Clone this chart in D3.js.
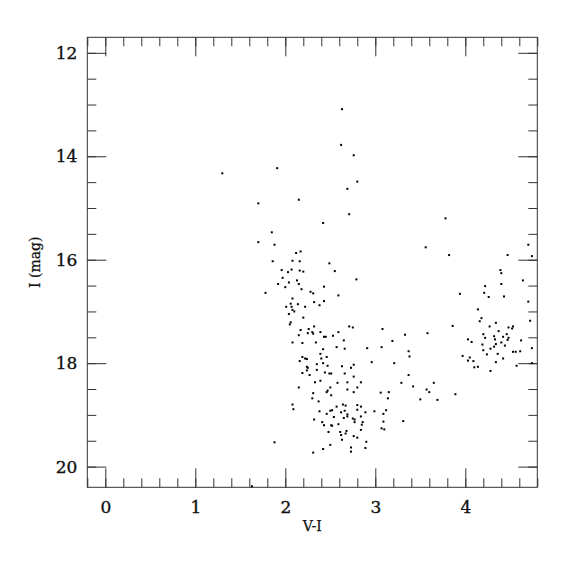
<!DOCTYPE html>
<html>
<head>
<meta charset="utf-8">
<script src="https://cdn.jsdelivr.net/npm/d3@7.9.0/dist/d3.min.js"></script>
<style>
  body { margin: 0; background: #fff; }
  svg { display: block; }
  .tick text { font-family: "DejaVu Serif", serif; font-size: 17px; fill: #111; stroke: #111; stroke-width: 0.35px; }
  .axis-title { font-family: "DejaVu Serif", serif; font-size: 14px; fill: #111; stroke: #111; stroke-width: 0.25px; }
</style>
</head>
<body>
<svg id="cmd" width="575" height="575"></svg>
<script>
// [V-I, I] pairs
const brightStars = [
  [2.63, 13.09], [2.62, 13.78], [1.91, 14.23], [1.30, 14.33], [2.69, 14.63], [2.15, 14.84],
  [1.70, 14.91], [2.71, 15.12], [2.42, 15.29], [1.85, 15.47], [1.70, 15.66], [1.88, 15.71],
  [2.76, 13.98], [2.80, 14.49], [3.78, 15.20], [3.56, 15.76], [4.70, 15.71], [3.82, 15.91],
  [1.63, 20.38]
];

const upperBranch = [
  [2.17, 15.84], [2.12, 15.87], [1.86, 16.03], [2.08, 16.02], [2.16, 16.03], [2.49, 16.07],
  [1.96, 16.20], [2.07, 16.19], [2.03, 16.24], [2.16, 16.21], [2.20, 16.23], [2.55, 16.22],
  [2.79, 16.38], [1.97, 16.35], [2.13, 16.40], [2.04, 16.44], [2.15, 16.47], [1.92, 16.47],
  [2.00, 16.53], [2.43, 16.52], [2.18, 16.57], [1.78, 16.64], [2.28, 16.62], [2.31, 16.65],
  [2.59, 16.69], [2.08, 16.75], [2.43, 16.80], [2.32, 16.82], [2.06, 16.85], [2.14, 16.86],
  [2.38, 16.88], [2.01, 16.91], [2.07, 16.91], [2.22, 16.91], [2.08, 16.97], [2.10, 17.00],
  [2.04, 17.05], [2.20, 17.12], [2.06, 17.21], [2.05, 17.25], [2.32, 17.29], [2.71, 17.29],
  [2.75, 17.31], [2.17, 17.36], [2.26, 17.34], [2.30, 17.40], [2.31, 17.43], [2.39, 17.40],
  [2.15, 17.46], [2.25, 17.42], [2.59, 17.40], [2.43, 17.49], [2.45, 17.49], [2.53, 17.47],
  [2.65, 17.56], [2.08, 17.60], [2.19, 17.61], [2.34, 17.60], [2.42, 17.73], [2.57, 17.69],
  [2.66, 17.72]
];

const lowerBranch = [
  [2.39, 17.82], [2.19, 17.88], [2.22, 17.91], [2.24, 17.92], [2.40, 17.91], [2.46, 17.88],
  [2.16, 17.96], [2.35, 18.02], [2.42, 18.00], [2.47, 18.05], [2.63, 18.06], [2.76, 18.03],
  [2.73, 18.09], [2.24, 18.07], [2.25, 18.09], [2.35, 18.13], [2.24, 18.14], [2.19, 18.19],
  [2.27, 18.23], [2.44, 18.18], [2.49, 18.20], [2.51, 18.20], [2.66, 18.20], [2.76, 18.26],
  [2.39, 18.34], [2.33, 18.37], [2.58, 18.38], [2.69, 18.37], [2.15, 18.47], [2.50, 18.47],
  [2.47, 18.53], [2.46, 18.56], [2.69, 18.51], [2.80, 18.47], [2.76, 18.56], [2.31, 18.58],
  [2.51, 18.62], [2.30, 18.68], [2.37, 18.74], [2.08, 18.80], [2.09, 18.89], [2.57, 18.84],
  [2.64, 18.80], [2.67, 18.82], [2.80, 18.81], [2.38, 18.93], [2.50, 18.92], [2.52, 18.91],
  [2.62, 18.95], [2.66, 18.92], [2.80, 18.90], [2.46, 18.98], [2.54, 19.04], [2.69, 18.99],
  [2.69, 19.03], [2.65, 19.06], [2.75, 19.07], [2.77, 19.09], [2.32, 19.09], [2.41, 19.14],
  [2.43, 19.20], [2.51, 19.20], [2.52, 19.21], [2.59, 19.18], [2.48, 19.33], [2.61, 19.33],
  [2.68, 19.31], [2.62, 19.39], [2.67, 19.36], [2.76, 19.41], [2.80, 19.44], [2.63, 19.48],
  [1.88, 19.53], [2.50, 19.58], [2.73, 19.63], [2.42, 19.66], [2.31, 19.73], [2.73, 19.71],
  [2.89, 19.64], [2.90, 19.52]
];

const midStars = [
  [3.08, 17.34], [3.58, 17.42], [3.33, 17.45], [3.19, 17.57], [2.91, 17.71], [3.07, 17.69],
  [3.37, 17.77], [3.38, 17.87], [2.96, 17.98], [3.21, 18.00], [3.37, 18.23], [2.84, 18.37],
  [3.29, 18.38], [3.42, 18.45], [3.57, 18.51], [3.60, 18.56], [3.65, 18.38], [3.06, 18.57],
  [3.15, 18.56], [3.14, 18.68], [3.50, 18.70], [3.69, 18.71], [2.84, 18.84], [2.89, 18.95],
  [2.99, 18.93], [3.12, 18.91], [3.09, 18.98], [2.77, 19.14], [2.84, 19.03], [2.86, 19.14],
  [2.85, 19.19], [3.09, 19.13], [3.31, 19.12], [2.84, 19.29], [3.07, 19.26], [3.10, 19.28]
];

const redGroup = [
  [4.47, 15.91], [4.74, 15.93], [4.39, 16.20], [4.40, 16.26], [4.64, 16.40], [4.40, 16.47],
  [4.22, 16.51], [4.21, 16.64], [3.94, 16.66], [4.26, 16.72], [4.43, 16.71], [4.70, 16.81],
  [4.14, 16.96], [4.18, 17.13], [4.16, 17.19], [4.72, 17.18], [4.34, 17.22], [4.27, 17.29],
  [3.86, 17.28], [4.53, 17.29], [4.48, 17.31], [4.52, 17.33], [4.37, 17.38], [4.20, 17.44],
  [4.46, 17.44], [4.32, 17.48], [4.42, 17.49], [4.22, 17.51], [4.48, 17.51], [4.33, 17.54],
  [4.03, 17.54], [4.47, 17.55], [4.62, 17.56], [4.07, 17.59], [4.40, 17.60], [4.34, 17.63],
  [4.19, 17.64], [4.44, 17.66], [4.32, 17.68], [4.28, 17.72], [4.74, 17.71], [4.20, 17.75],
  [4.53, 17.78], [4.56, 17.78], [4.61, 17.77], [4.36, 17.82], [4.24, 17.83], [3.97, 17.86],
  [4.05, 17.89], [4.03, 17.95], [4.42, 17.91], [4.09, 17.96], [4.34, 17.98], [4.74, 18.00],
  [4.10, 18.08], [4.14, 18.07], [4.57, 18.05], [4.28, 18.15], [3.89, 18.60]
];

const xMajorTicks = [0, 1, 2, 3, 4];
const xMinorTicks = d3.range(-0.2, 4.81, 0.2).map((v) => +v.toFixed(1));
const yMajorTicks = [12, 14, 16, 18, 20];
const yMinorTicks = d3.range(12, 20.01, 0.5);

const svg = d3.select('#cmd');
const frame = { left: 87.3, right: 537.3, top: 37.3, bottom: 487.3 };

const x = d3.scaleLinear().domain([-0.2, 4.8]).range([frame.left, frame.right]);
const y = d3.scaleLinear().domain([11.7, 20.4]).range([frame.top, frame.bottom]);

function tickAxis(axisFn, scale, values, size, transform) {
  const g = svg.append('g')
    .attr('transform', transform)
    .call(axisFn(scale).tickValues(values).tickSize(size).tickFormat(''));
  g.select('.domain').remove();
  g.selectAll('line').attr('stroke', '#333').attr('stroke-width', 1);
  return g;
}

// inward ticks on all four sides
tickAxis(d3.axisBottom, x, xMinorTicks, -9, `translate(0,${frame.bottom})`);
tickAxis(d3.axisBottom, x, xMajorTicks, -19, `translate(0,${frame.bottom})`);
tickAxis(d3.axisTop, x, xMinorTicks, -9, `translate(0,${frame.top})`);
tickAxis(d3.axisTop, x, xMajorTicks, -19, `translate(0,${frame.top})`);
tickAxis(d3.axisLeft, y, yMinorTicks, -9, `translate(${frame.left},0)`);
tickAxis(d3.axisLeft, y, yMajorTicks, -19, `translate(${frame.left},0)`);
tickAxis(d3.axisRight, y, yMinorTicks, -9, `translate(${frame.right},0)`);
tickAxis(d3.axisRight, y, yMajorTicks, -19, `translate(${frame.right},0)`);

// tick labels
const xLabels = svg.append('g')
  .attr('transform', `translate(0,${frame.bottom})`)
  .call(d3.axisBottom(x).tickValues(xMajorTicks).tickSize(0).tickPadding(14).tickFormat(d3.format('d')));
xLabels.select('.domain').remove();

const yLabels = svg.append('g')
  .attr('transform', `translate(${frame.left},0)`)
  .call(d3.axisLeft(y).tickValues(yMajorTicks).tickSize(0).tickPadding(10).tickFormat(d3.format('d')));
yLabels.select('.domain').remove();

svg.append('rect')
  .attr('x', frame.left).attr('y', frame.top)
  .attr('width', frame.right - frame.left).attr('height', frame.bottom - frame.top)
  .attr('fill', 'none').attr('stroke', '#333').attr('stroke-width', 1);

const stars = [].concat(brightStars, upperBranch, lowerBranch, midStars, redGroup);

svg.append('g')
  .selectAll('rect')
  .data(stars)
  .join('rect')
  .attr('x', (d) => x(d[0]) - 1)
  .attr('y', (d) => y(d[1]) - 1)
  .attr('width', 2)
  .attr('height', 2)
  .attr('fill', '#000');

svg.append('text')
  .attr('class', 'axis-title')
  .attr('x', (frame.left + frame.right) / 2)
  .attr('y', 531)
  .attr('text-anchor', 'middle')
  .text('V-I');

svg.append('text')
  .attr('class', 'axis-title')
  .attr('transform', `translate(40,${(frame.top + frame.bottom) / 2}) rotate(-90)`)
  .attr('text-anchor', 'middle')
  .text('I (mag)');
</script>
</body>
</html>
